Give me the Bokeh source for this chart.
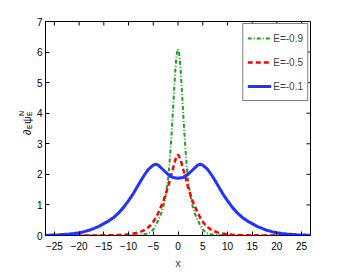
import math
from bokeh.plotting import figure
from bokeh.layouts import row
from bokeh.models import Range1d, FixedTicker, Label, Legend
from bokeh.embed import file_html
from bokeh.resources import INLINE

# ---- data ----
x_green = [-27, -10, -8, -7, -6, -5.5, -5, -4.5, -4, -3.5, -3, -2.5, -2, -1.75, -1.5, -1.25, -1, -0.75, -0.5, -0.25, 0,
           0.25, 0.5, 0.75, 1, 1.25, 1.5, 1.75, 2, 2.5, 3, 3.5, 4, 4.5, 5, 5.5, 6, 7, 8, 10, 27]
y_green = [0.0, 0.002, 0.012, 0.03, 0.07, 0.12, 0.2, 0.33, 0.5, 0.68, 0.92, 1.3, 1.85, 2.3, 2.85, 3.45, 4.15, 4.85, 5.5, 5.95, 6.1,
           5.95, 5.5, 4.85, 4.15, 3.45, 2.85, 2.3, 1.85, 1.3, 0.92, 0.68, 0.5, 0.33, 0.2, 0.12, 0.07, 0.03, 0.012, 0.002, 0.0]

x_red = [-27, -20, -17, -14, -12, -11, -10, -9, -8, -7, -6, -5.5, -5, -4.5, -4, -3.5, -3, -2.5, -2, -1.5, -1, -0.5, 0,
         0.5, 1, 1.5, 2, 2.5, 3, 3.5, 4, 4.5, 5, 5.5, 6, 7, 8, 9, 10, 11, 12, 14, 17, 20, 27]
y_red = [0.0, 0.0, 0.002, 0.006, 0.015, 0.025, 0.04, 0.065, 0.1, 0.16, 0.27, 0.35, 0.45, 0.58, 0.74, 0.92, 1.1, 1.35, 1.6, 1.9, 2.2, 2.5, 2.65,
         2.5, 2.2, 1.9, 1.6, 1.35, 1.1, 0.92, 0.74, 0.58, 0.45, 0.35, 0.27, 0.16, 0.1, 0.065, 0.04, 0.025, 0.015, 0.006, 0.002, 0.0, 0.0]

x_blue = [-27, -26, -25, -24, -23, -22, -21, -20, -19, -18, -17, -16, -15, -14, -13, -12, -11, -10, -9, -8, -7, -6, -5, -4.5, -4,
          -3, -2, -1, 0, 1, 2, 3, 4, 4.5, 5, 6, 7, 8, 9, 10, 11, 12, 13, 14, 15, 16, 17, 18, 19, 20, 21, 22, 23, 24, 25, 26, 27]
y_blue = [0.011, 0.015, 0.02, 0.028, 0.038, 0.05, 0.068, 0.09, 0.125, 0.17, 0.23, 0.3, 0.39, 0.48, 0.59, 0.74, 0.92, 1.14, 1.38, 1.66, 1.93, 2.16, 2.3, 2.33, 2.3,
          2.15, 2.0, 1.9, 1.87, 1.9, 2.0, 2.15, 2.3, 2.33, 2.3, 2.16, 1.93, 1.66, 1.38, 1.14, 0.92, 0.74, 0.59, 0.48, 0.39, 0.3, 0.23, 0.17, 0.125, 0.09, 0.068, 0.05, 0.038, 0.028, 0.02, 0.015, 0.011]

labels = ["E=-0.9", "E=-0.5", "E=-0.1"]
x_ticks = [-25, -20, -15, -10, -5, 0, 5, 10, 15, 20, 25]
y_ticks = [0, 1, 2, 3, 4, 5, 6, 7]
X_MIN, X_MAX = -26.8, 26.8
Y_MIN, Y_MAX = 0, 7

FONT = "Liberation Sans"
LEFT_W = 33
H = 273

# ---- narrow strip holding the rotated y-axis label ----
lab = figure(width=LEFT_W, height=H, output_backend="svg", toolbar_location=None,
             x_range=Range1d(0, LEFT_W), y_range=Range1d(0, H),
             x_axis_location=None, y_axis_location=None, min_border=0)
lab.outline_line_color = None
lab.xgrid.visible = False
lab.ygrid.visible = False
lab.background_fill_color = "white"
lab.border_fill_color = "white"

ang = math.pi / 2
parts = [
    ("\u2202", 26.5, 100.5, "11px"),
    ("E", 29, 106.5, "7px"),
    ("\u03c8", 26.5, 111.5, "11px"),
    ("E", 29, 119.5, "7px"),
    ("N", 20.5, 119.5, "7px"),
]
for txt, sx, sy, fs in parts:
    lab.add_layout(Label(x=sx, y=sy, x_units="screen", y_units="screen", text=txt,
                         angle=ang, text_font=FONT, text_font_size=fs,
                         text_align="left", text_baseline="alphabetic", text_color="black"))

# ---- main plot ----
p = figure(width=343 - LEFT_W, height=H, output_backend="svg", toolbar_location=None,
           x_range=Range1d(X_MIN, X_MAX), y_range=Range1d(Y_MIN, Y_MAX),
           min_border_left=44 - LEFT_W, min_border_right=33, min_border_top=21, min_border_bottom=38)
p.background_fill_color = "white"
p.border_fill_color = "white"
p.outline_line_color = "black"
p.xgrid.visible = False
p.ygrid.visible = False

g = p.line(x_green, y_green, line_color="#1f9f1f", line_width=2, line_dash="4 2 1 2")
r = p.line(x_red, y_red, line_color="#ff0000", line_width=2.5, line_dash="5 3")
b = p.line(x_blue, y_blue, line_color="#2233ff", line_width=3)

# mirrored tick marks on the top and right edges (inward, 4 px)
p.ray(x=x_ticks, y=[Y_MAX] * len(x_ticks), length=4, length_units="screen",
      angle=-math.pi / 2, line_color="black", line_width=1)
p.ray(x=[X_MAX] * len(y_ticks), y=y_ticks, length=4, length_units="screen",
      angle=math.pi, line_color="black", line_width=1)

legend = Legend(items=[(labels[0], [g]), (labels[1], [r]), (labels[2], [b])],
                location="top_right", margin=2, padding=4, spacing=4,
                glyph_width=24, glyph_height=20, label_standoff=2,
                label_text_font=FONT, label_text_font_size="10px",
                border_line_color="black", border_line_width=1,
                background_fill_color="white", background_fill_alpha=1.0)
p.add_layout(legend)

for ax in [p.xaxis[0], p.yaxis[0]]:
    ax.major_tick_in = 4
    ax.major_tick_out = 0
    ax.minor_tick_line_color = None
    ax.axis_line_color = "black"
    ax.major_label_text_font = FONT
    ax.major_label_text_font_size = "10px"
    ax.major_label_text_color = "black"

p.xaxis[0].ticker = FixedTicker(ticks=x_ticks)
p.yaxis[0].ticker = FixedTicker(ticks=y_ticks)
p.xaxis[0].major_label_standoff = 6
p.yaxis[0].major_label_standoff = 3
p.xaxis[0].axis_label = "x"
p.xaxis[0].axis_label_text_font = FONT
p.xaxis[0].axis_label_text_font_size = "11px"
p.xaxis[0].axis_label_text_font_style = "normal"
p.xaxis[0].axis_label_standoff = 4

layout = row(lab, p)
open("out.html", "w").write(file_html(layout, INLINE))
